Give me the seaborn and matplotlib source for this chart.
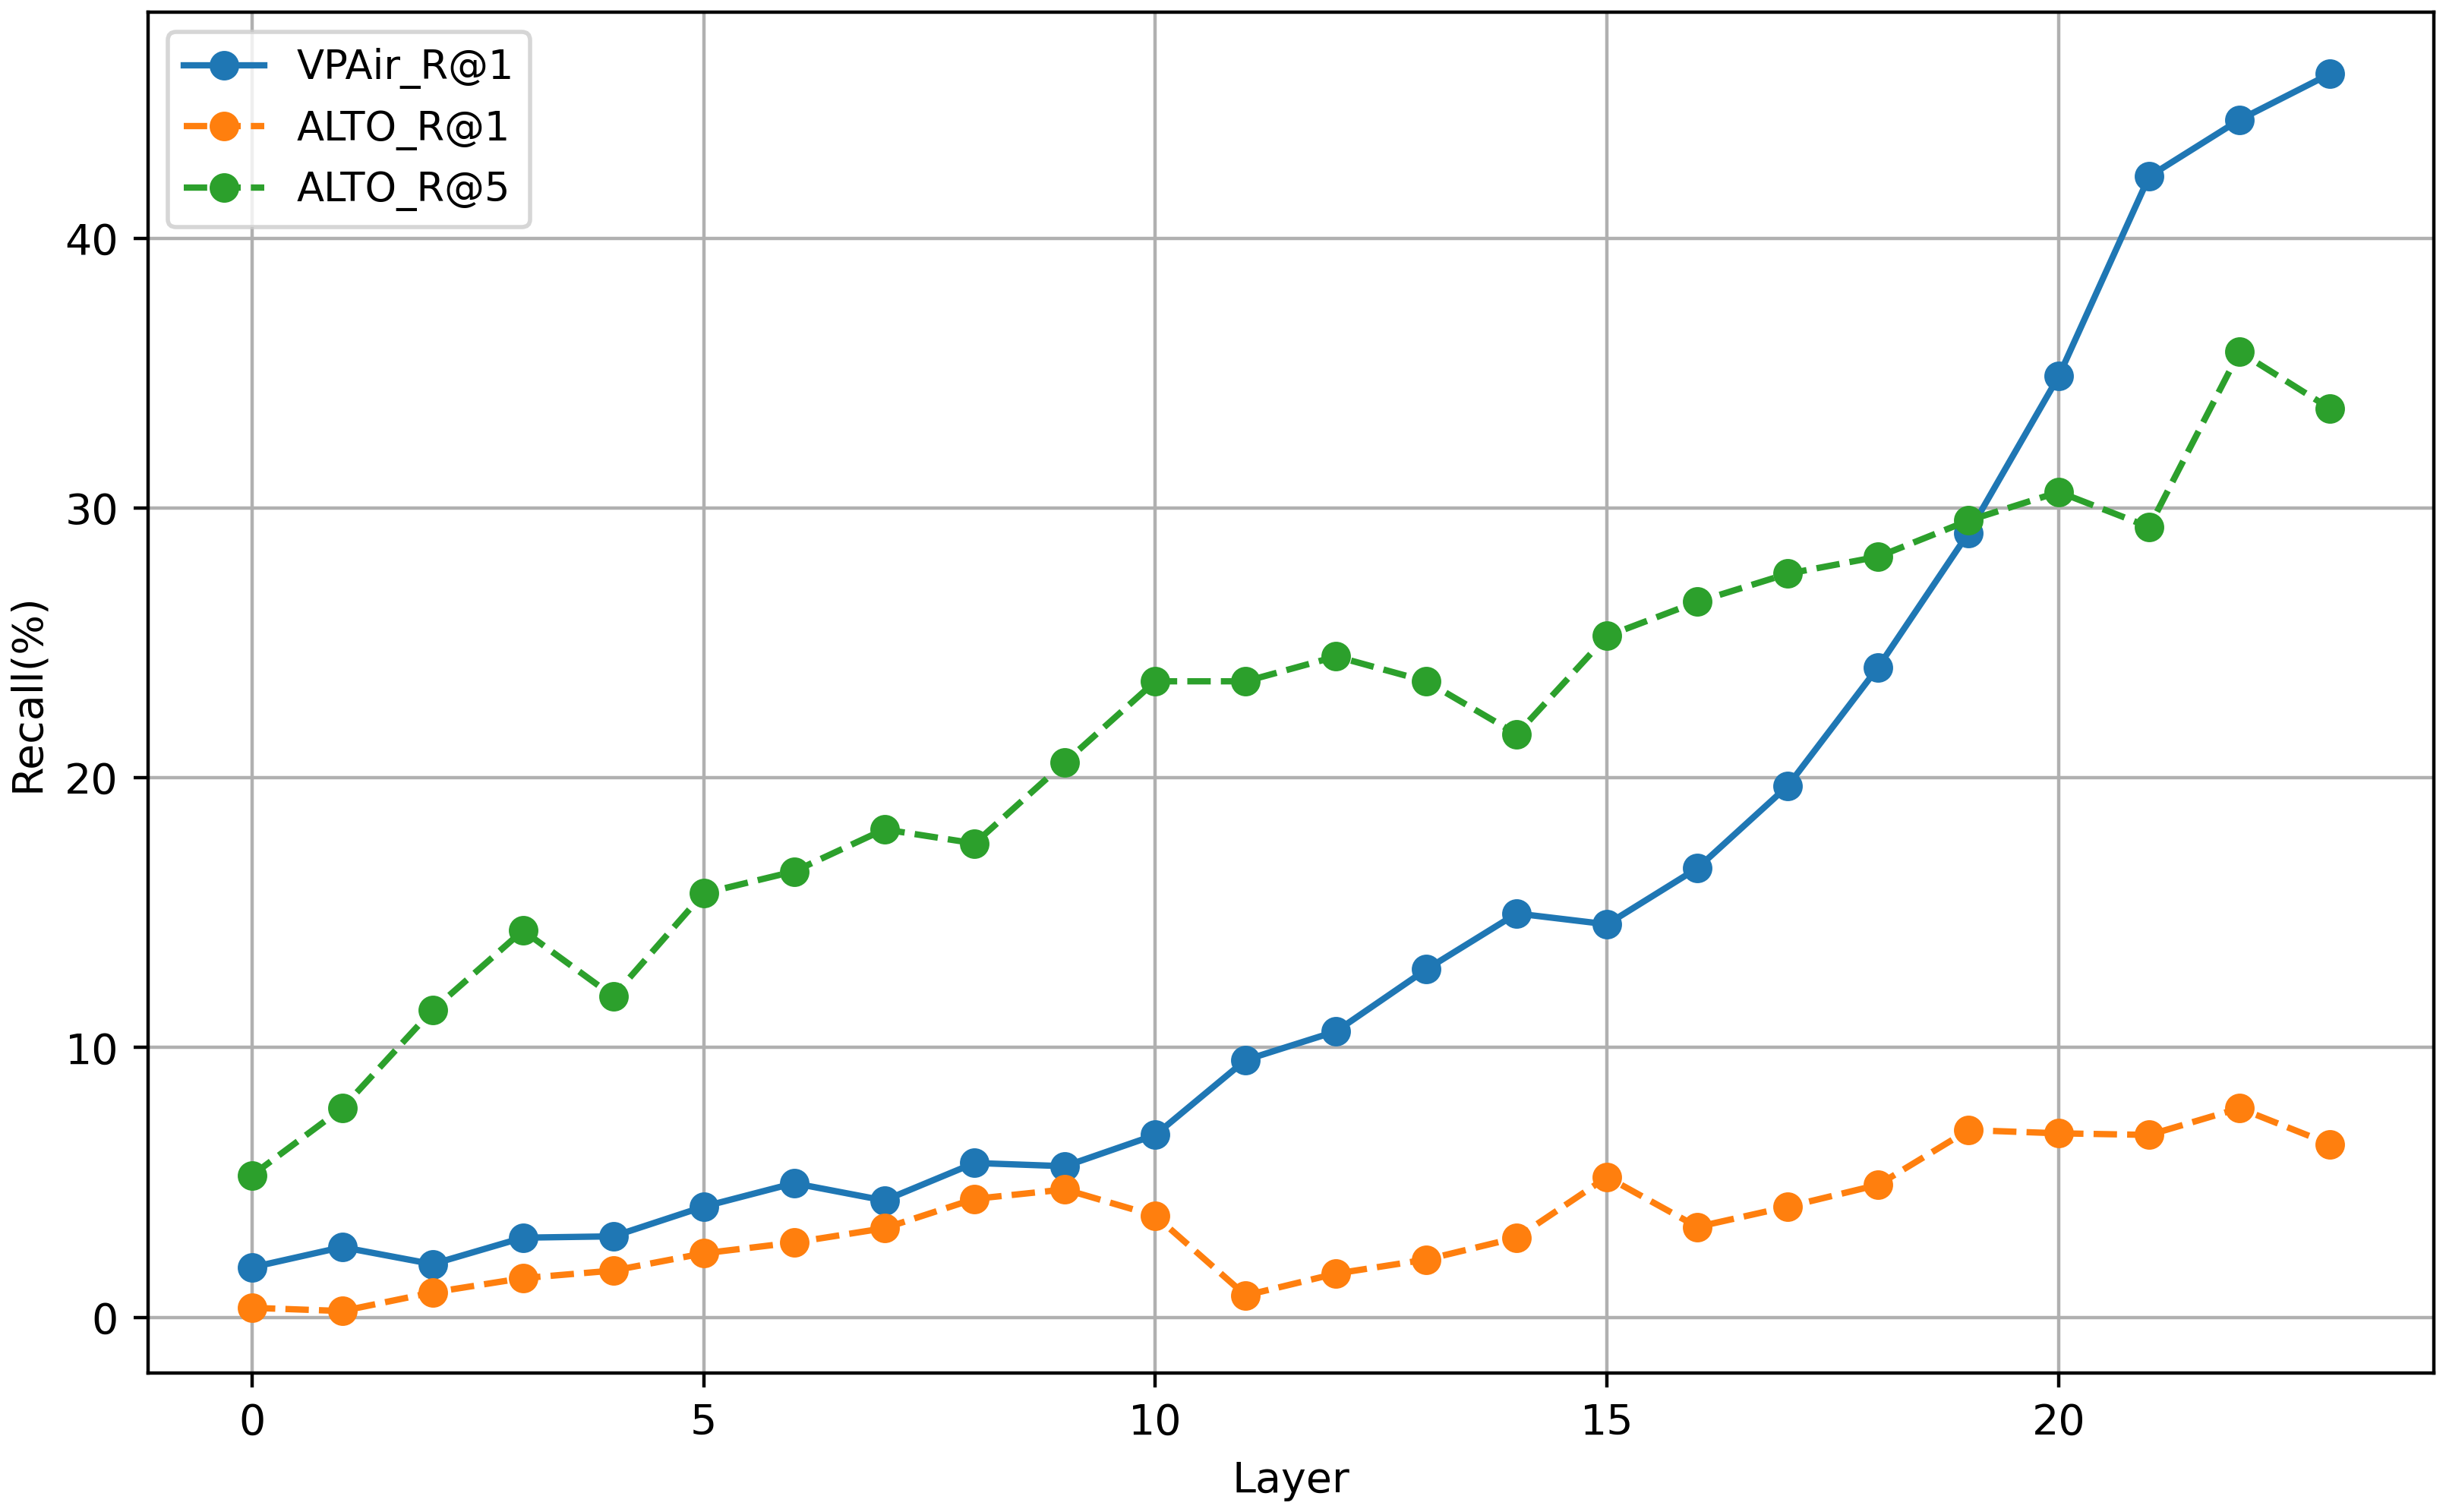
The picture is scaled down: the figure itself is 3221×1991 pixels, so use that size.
import numpy as np
import pandas as pd
import matplotlib
matplotlib.use("Agg")
import matplotlib.pyplot as plt
import seaborn as sns

layers = list(range(24))

# recall per layer
vpair_r1 = [1.85, 2.6, 1.97, 2.95, 3.0, 4.1, 4.97, 4.33, 5.72, 5.6,
            6.76, 9.54, 10.6, 12.9, 14.97, 14.57, 16.65, 19.7, 24.1, 29.08,
            34.9, 42.3, 44.4, 46.1]
alto_r1 = [0.35, 0.23, 0.92, 1.45, 1.73, 2.37, 2.77, 3.3, 4.39, 4.74,
           3.76, 0.81, 1.62, 2.14, 2.95, 5.2, 3.35, 4.1, 4.91, 6.94,
           6.82, 6.76, 7.75, 6.42]
alto_r5 = [5.26, 7.75, 11.39, 14.34, 11.9, 15.72, 16.53, 18.09, 17.57, 20.58,
           23.58, 23.58, 24.5, 23.58, 21.62, 25.26, 26.53, 27.57, 28.2, 29.54,
           30.6, 29.3, 35.8, 33.7]

series = [
    ("VPAir_R@1", vpair_r1, "#1f77b4", "-"),
    ("ALTO_R@1", alto_r1, "#ff7f0e", "--"),
    ("ALTO_R@5", alto_r5, "#2ca02c", "--"),
]

fig = plt.figure(figsize=(3221 / 400, 1991 / 400), dpi=400)
ax = fig.add_axes([0.0605, 0.092, 0.9345, 0.9])

for name, vals, col, ls in series:
    df = pd.DataFrame({"Layer": layers, "Recall": vals})
    sns.lineplot(data=df, x="Layer", y="Recall", ax=ax, color=col,
                 linestyle=ls, marker="o", markersize=6, linewidth=1.5,
                 markeredgecolor=col, markeredgewidth=1, label=name)

ax.grid(True, color="#b0b0b0", linewidth=0.8)
ax.set_axisbelow(True)
ax.set_xlabel("Layer")
ax.set_ylabel("Recall(%)")
ax.set_xticks([0, 5, 10, 15, 20])
ax.legend(loc="upper left", fontsize=9.5)

fig.savefig("out.png", dpi=400)
